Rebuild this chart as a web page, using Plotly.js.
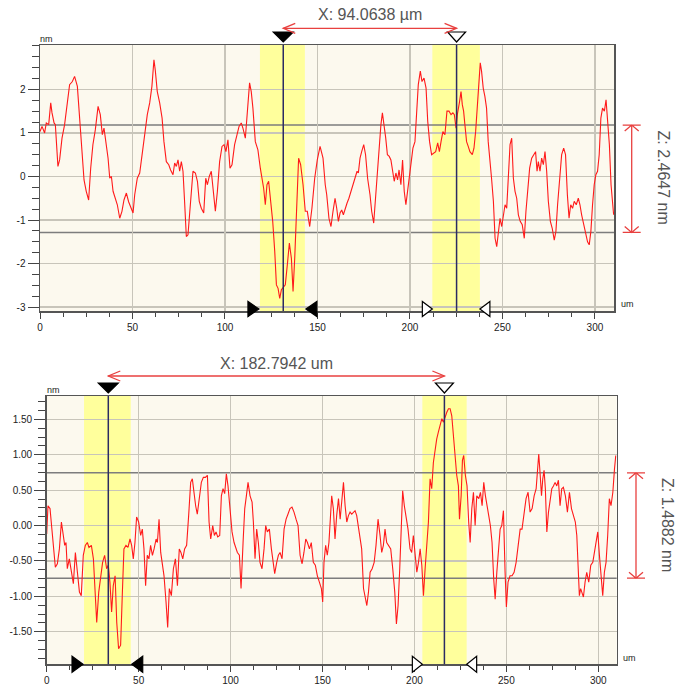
<!DOCTYPE html>
<html>
<head>
<meta charset="utf-8">
<script src="https://cdn.plot.ly/plotly-3.0.1.min.js"></script>
<style>html,body{margin:0;padding:0;background:#fff;}#chart{width:675px;height:685px;}</style>
</head>
<body>
<div id="chart"></div>
<script>
// ---------- DATA ----------
// Top profile: x in um, height in nm
const topX = [0.0,1.1,2.5,3.4,4.7,5.8,6.5,7.6,8.3,9.2,9.7,10.6,11.9,13.3,14.8,16.0,17.5,18.7,20.2,21.4,22.7,23.8,25.0,26.3,27.4,28.6,29.9,31.4,32.6,33.7,34.6,35.9,36.8,37.7,38.6,39.5,40.7,41.8,43.1,44.3,45.4,46.7,47.9,49.4,50.3,51.2,52.6,53.9,55.1,56.6,58.0,59.3,60.5,61.6,62.3,63.4,64.7,66.0,67.0,68.3,69.6,70.6,71.9,72.8,73.7,74.6,75.5,76.4,77.3,78.2,79.1,80.0,80.9,81.8,82.7,84.0,85.1,86.1,87.2,88.5,89.6,90.5,91.5,92.6,93.5,94.8,95.9,97.1,98.4,99.5,100.5,101.6,102.7,103.8,105.2,106.5,107.6,108.8,109.7,111.0,112.1,113.3,114.2,115.1,116.4,117.8,119.1,120.0,120.9,121.8,122.7,123.6,124.7,125.8,126.9,127.8,128.7,129.6,130.5,131.7,132.6,133.7,134.8,135.9,136.8,137.7,138.6,139.8,140.9,142.2,143.4,144.5,145.8,147.0,148.5,149.9,151.4,153.0,154.2,155.0,156.2,157.3,158.4,159.5,160.4,161.3,162.2,163.1,164.0,164.9,166.0,167.0,168.1,169.2,170.3,171.4,172.1,173.0,173.9,175.0,176.0,177.1,178.4,179.3,180.4,181.4,182.5,183.4,184.3,185.1,186.0,186.9,187.8,188.8,189.7,190.6,191.5,192.4,193.3,194.1,195.1,196.0,196.9,197.8,198.7,199.6,200.5,201.6,202.7,203.6,204.5,205.6,206.5,207.6,208.7,209.6,210.6,211.7,212.8,213.9,215.0,215.9,216.8,217.8,218.9,220.0,221.1,222.2,223.2,224.0,224.9,225.6,226.7,227.6,228.3,229.0,229.7,230.6,231.5,232.4,233.7,234.6,235.5,236.4,237.3,238.0,238.7,239.6,240.5,241.4,242.3,243.2,244.1,245.1,246.0,246.9,247.8,248.7,249.6,250.5,251.4,252.3,253.2,254.1,255.0,255.9,256.8,257.7,258.6,259.6,260.7,261.8,262.7,263.6,264.7,265.8,266.9,267.9,268.7,269.4,270.3,271.2,272.1,273.0,273.9,274.8,275.9,276.9,278.0,278.9,279.8,280.9,282.0,283.1,284.1,285.1,286.0,286.9,287.9,288.8,289.9,291.0,291.9,292.8,293.9,295.0,296.0,296.9,297.8,298.7,299.6,300.5,301.4,302.3,303.2,304.1,305.1,306.0,306.9,307.8,308.7,309.6,310.1];
const topZ = [1.03,1.15,1.00,1.23,1.19,1.69,1.46,1.23,1.19,0.38,0.23,0.38,0.88,1.19,1.65,2.11,2.18,2.30,2.07,1.42,0.65,-0.08,-0.34,-0.54,0.19,0.73,1.07,1.61,1.42,0.96,1.11,0.73,0.42,-0.04,0.00,-0.34,-0.50,-0.65,-0.96,-0.80,-0.54,-0.38,-0.58,-0.77,-0.84,-0.42,-0.04,0.08,0.50,0.92,1.42,1.69,2.07,2.68,2.45,1.95,1.69,1.34,0.80,0.34,0.27,0.15,0.04,0.31,0.23,0.38,0.12,0.34,0.12,-0.61,-1.38,-1.34,-0.88,-0.34,0.12,0.08,-0.11,-0.57,-0.73,-0.84,-0.04,-0.19,0.00,0.12,-0.27,-0.80,-0.34,0.34,0.69,0.73,0.57,0.84,0.19,0.27,0.73,1.00,1.15,1.23,1.11,0.88,1.46,2.15,1.95,1.57,0.80,0.61,0.19,-0.04,-0.27,-0.65,-0.19,-0.11,-0.57,-1.03,-1.72,-2.49,-2.57,-2.80,-2.60,-2.53,-2.49,-2.03,-1.53,-1.88,-2.64,-1.88,-0.73,0.42,0.27,-0.19,-0.80,-0.80,-1.15,-0.73,-0.04,0.38,0.69,0.42,-0.19,-0.42,-0.96,-1.15,-0.80,-0.50,-0.73,-1.03,-0.84,-0.77,-0.88,-0.73,-0.61,-0.50,-0.34,-0.19,-0.04,0.12,0.08,0.42,0.57,0.73,0.50,-0.04,-0.42,-0.80,-1.07,-0.50,0.12,0.73,1.19,1.46,1.19,0.88,0.50,0.46,0.38,0.15,-0.11,0.08,-0.08,0.15,-0.19,0.38,-0.34,-0.65,-0.34,-0.04,0.27,0.65,0.80,1.34,2.11,2.42,2.18,2.26,2.03,1.27,0.80,0.50,0.54,0.57,0.77,0.57,0.80,1.03,0.96,1.50,1.50,1.42,1.46,1.42,1.11,1.42,1.69,1.95,1.65,1.50,1.19,0.80,0.69,0.57,0.50,0.65,1.03,1.69,2.34,2.61,2.42,2.03,1.84,1.57,0.80,0.42,-0.04,-0.57,-1.42,-1.61,-1.34,-0.96,-1.15,-0.88,-0.65,-0.73,-0.04,0.73,0.88,-0.04,-0.34,-0.50,-0.88,-1.03,-1.11,-1.42,-0.80,-0.27,0.19,0.42,0.50,0.57,0.12,0.34,0.12,0.42,0.27,0.57,0.12,-0.57,-1.03,-1.19,-1.46,-1.26,-0.65,-0.04,0.50,0.65,0.50,-0.42,-0.96,-0.65,-0.73,-0.57,-0.65,-0.50,-0.65,-0.88,-1.11,-1.34,-1.50,-1.57,-1.26,-0.65,-0.19,0.04,0.12,0.50,1.34,1.57,1.50,1.76,1.27,0.73,-0.19,-0.73,-0.88];

// Bottom profile
const botX = [0.0,0.7,1.8,2.5,3.6,4.7,5.8,6.9,8.0,8.9,9.8,10.5,11.2,12.3,13.4,14.5,15.6,16.7,17.8,18.8,19.9,21.0,22.1,23.0,24.3,25.4,26.3,27.2,28.3,29.4,30.4,31.5,32.6,33.5,34.4,35.3,36.2,37.2,38.1,39.1,40.2,41.1,42.0,43.1,44.2,45.3,46.2,47.1,48.0,48.9,50.0,51.1,52.0,52.9,53.8,54.7,55.6,56.5,57.5,58.4,59.5,60.2,61.1,62.0,62.9,63.8,64.9,65.8,66.7,67.8,68.9,70.0,71.1,72.1,73.0,74.0,75.0,76.1,77.2,78.3,79.2,80.1,81.0,81.9,83.0,84.1,85.2,86.3,87.4,88.3,89.2,90.3,91.2,92.1,93.0,94.1,95.0,95.9,96.8,97.7,98.6,99.7,100.8,101.9,102.8,103.7,104.8,105.7,106.8,107.7,108.6,109.5,110.6,111.7,112.4,113.3,114.2,115.1,116.0,117.1,118.2,119.1,120.0,121.1,122.2,123.3,124.0,125.1,126.0,126.9,128.0,129.1,130.2,131.2,132.3,133.4,134.5,135.6,136.7,137.8,138.9,139.9,140.9,141.8,142.9,143.9,145.0,146.1,147.2,148.3,149.4,150.1,150.8,151.7,152.6,153.5,154.5,155.0,155.9,156.8,157.7,158.7,159.6,160.5,161.4,162.3,163.2,164.1,165.0,165.9,166.8,167.7,168.6,169.5,170.4,171.3,172.3,173.2,174.1,175.0,175.9,177.0,178.1,179.1,180.2,181.3,182.2,183.1,184.0,184.9,186.0,187.1,188.2,189.3,190.2,191.1,192.0,192.9,193.6,194.5,195.5,196.5,197.6,198.5,199.4,200.4,201.3,202.2,203.1,204.0,204.9,205.8,206.7,207.6,208.5,209.4,210.3,211.2,212.1,213.0,213.9,214.9,215.8,216.7,217.6,218.5,219.4,220.3,221.2,222.1,223.0,223.9,224.5,225.4,226.1,226.8,227.7,228.6,229.5,230.3,231.2,232.1,233.0,233.9,235.0,235.9,236.8,237.7,238.6,239.5,240.4,241.3,242.2,243.1,243.9,244.8,245.7,246.6,247.5,248.4,249.3,250.0,250.9,252.0,253.1,254.2,255.3,256.4,257.5,258.5,259.6,260.7,261.8,262.9,264.0,265.1,266.2,266.9,267.6,268.3,269.1,269.8,270.5,271.2,272.0,272.9,273.8,274.7,275.6,276.5,277.4,278.3,279.2,280.1,281.0,282.1,283.2,284.3,285.4,286.5,287.5,288.3,289.0,289.7,290.4,291.2,291.9,292.8,293.7,294.8,295.9,297.0,297.9,298.8,299.7,300.6,301.5,302.4,303.3,304.2,305.1,306.0,306.9,307.9,308.8,309.5];
const botZ = [-0.12,0.28,0.24,0.05,-0.28,-0.59,-0.54,-0.33,0.05,-0.14,-0.28,-0.24,-0.61,-0.47,-0.66,-0.82,-0.38,-0.71,-0.94,-0.99,-0.42,-0.28,-0.24,-0.31,-0.28,-0.47,-0.89,-1.37,-0.94,-0.75,-0.52,-0.42,-0.61,-0.56,-0.80,-1.22,-0.85,-0.71,-1.37,-1.74,-1.69,-0.99,-0.33,-0.28,-0.31,-0.19,-0.28,-0.47,-0.24,0.12,0.05,-0.14,-0.05,-0.33,-0.85,-0.42,-0.47,-0.28,-0.42,-0.33,-0.19,-0.24,0.09,-0.38,-0.56,-0.71,-1.08,-1.44,-0.89,-0.99,-0.61,-0.47,-0.85,-0.33,-0.38,-0.47,-0.33,-0.28,0.14,0.61,0.66,0.42,0.28,0.16,0.38,0.61,0.68,0.68,0.71,0.05,-0.19,0.00,-0.14,-0.09,-0.16,-0.14,0.42,0.52,0.45,0.73,0.56,0.19,-0.09,-0.24,-0.33,-0.38,-0.42,-0.89,-0.24,0.24,0.42,0.61,0.42,0.33,0.05,-0.47,-0.05,-0.24,-0.52,-0.61,-0.33,0.00,-0.09,-0.05,-0.33,-0.56,-0.68,-0.52,-0.42,-0.38,-0.47,-0.05,0.09,0.16,0.24,0.26,0.19,0.09,0.00,-0.42,-0.54,-0.38,-0.19,-0.24,-0.33,-0.24,-0.52,-0.56,-0.71,-0.80,-0.89,-1.08,-0.52,-0.28,-0.42,-0.24,0.19,0.42,0.24,-0.19,0.14,0.38,0.09,0.42,0.61,0.28,0.05,0.14,0.19,0.16,0.19,0.21,0.14,0.00,-0.14,-0.33,-0.89,-1.04,-1.13,-0.94,-0.66,-0.61,-0.52,-0.28,0.09,-0.14,-0.38,-0.28,-0.05,-0.24,-0.28,-0.33,-0.61,-0.94,-1.39,-1.13,-0.61,0.19,0.49,0.28,0.14,-0.05,-0.33,-0.38,-0.14,-0.42,-0.66,-0.52,-0.33,-0.56,-0.99,-0.61,-0.28,0.05,0.66,0.52,0.89,1.08,1.22,1.32,1.41,1.51,1.46,1.55,1.60,1.65,1.65,1.55,1.32,0.99,0.71,0.56,0.09,0.42,0.92,0.99,0.71,0.56,0.05,-0.24,0.24,0.47,0.00,0.42,0.38,0.47,0.28,0.61,0.42,0.24,0.14,0.00,-0.24,-0.75,-1.04,-0.66,-0.38,-0.05,0.00,0.21,-0.66,-1.15,-0.80,-0.71,-0.71,-0.66,-0.52,-0.28,-0.05,-0.05,0.19,0.38,0.47,0.19,0.24,0.42,0.52,0.75,1.01,0.75,0.42,0.66,0.78,0.52,-0.09,0.19,0.38,0.52,0.56,0.61,0.56,0.64,0.28,0.52,0.54,0.42,0.19,0.47,0.24,0.14,0.05,-0.14,-0.52,-0.99,-0.89,-0.94,-1.01,-0.80,-0.66,-0.80,-0.56,-0.52,-0.38,-0.28,-0.09,-0.42,-0.71,-0.99,-0.66,-0.52,-0.14,0.38,0.28,0.47,0.80,0.99];

// Tick labels
const topYTicks = [2, 1, 0, -1, -2, -3];
const topYLabels = ['2', '1', '0', '-1', '-2', '-3'];
const botYTicks = [1.5, 1.0, 0.5, 0.0, -0.5, -1.0, -1.5];
const botYLabels = ['1.50', '1.00', '0.50', '0.00', '-0.50', '-1.00', '-1.50'];

// Cursor / measurement values
const topBands = [[118.9, 143.2], [212.1, 237.8]];
const topCursors = [131.5, 225.2];
const topZLines = [1.18, -1.2847];
const topXLabel = 'X: 94.0638 \u00b5m';
const topZLabel = 'Z: 2.4647 nm';

const botBands = [[20.3, 45.7], [204.3, 228.4]];
const botCursors = [33.5, 216.3];
const botZLines = [0.745, -0.7432];
const botXLabel = 'X: 182.7942 um';
const botZLabel = 'Z: 1.4882 nm';

// ---------- STYLE ----------
const W = 675, H = 685;
const FONT = 'Liberation Sans, Arial, sans-serif';
const RED = '#e8403f';
const CURSOR = '#2b2b62';
const px = v => v / W;          // horizontal pixel -> paper
const py = v => 1 - v / H;      // vertical pixel -> paper

function axisX(domain, range, anchor) {
  return {
    domain: domain, range: range, anchor: anchor, fixedrange: true,
    tickmode: 'linear', tick0: 0, dtick: 50,
    ticks: 'outside', ticklen: 6, tickwidth: 1, tickcolor: '#444',
    minor: {ticks: 'outside', tick0: 0, dtick: 12.5, ticklen: 4, tickwidth: 1, tickcolor: '#444', showgrid: false},
    showgrid: true, gridcolor: '#c8c5ba', gridwidth: 1.2,
    showline: true, mirror: true, linecolor: '#555', linewidth: 1.5,
    zeroline: false,
    tickfont: {family: FONT, size: 10, color: '#222'}
  };
}
function axisY(domain, range, anchor, vals, labels, minorD) {
  return {
    domain: domain, range: range, anchor: anchor, fixedrange: true,
    tickmode: 'array', tickvals: vals, ticktext: labels,
    ticks: 'outside', ticklen: 11, tickwidth: 1, tickcolor: '#444',
    minor: {ticks: 'outside', tickmode: 'linear', tick0: 0, dtick: minorD, ticklen: 7, tickwidth: 1, tickcolor: '#444', showgrid: false},
    showgrid: true, gridcolor: '#c8c5ba', gridwidth: 1.2,
    showline: true, mirror: true, linecolor: '#555', linewidth: 1.5,
    zeroline: false,
    tickfont: {family: FONT, size: 10, color: '#222'}
  };
}

function tri(xr, yr, xa, ya, path, filled) {
  return {type: 'path', xref: xr, yref: yr, xsizemode: 'pixel', ysizemode: 'pixel',
    xanchor: xa, yanchor: ya, path: path, layer: 'above',
    fillcolor: filled ? '#000' : '#fff', line: {color: '#000', width: 1.2}};
}
function pixPath(xr, yr, xa, ya, path, color, w) {
  return {type: 'path', xref: xr, yref: yr, xsizemode: 'pixel', ysizemode: 'pixel',
    xanchor: xa, yanchor: ya, path: path, layer: 'above',
    line: {color: color, width: w}};
}

function chartShapes(xr, yr, bands, cursors, zlines, arrowYpx, zArrowXpx, triH) {
  const yd = yr + ' domain', xd = xr + ' domain';
  const s = [];
  bands.forEach(b => s.push({type: 'rect', xref: xr, yref: yd, x0: b[0], x1: b[1], y0: 0, y1: 1,
    fillcolor: '#ffff9c', line: {width: 0}, layer: 'below'}));
  zlines.forEach(z => s.push({type: 'line', xref: xd, yref: yr, x0: 0, x1: 1, y0: z, y1: z,
    line: {color: '#7d7d7d', width: 1.5}, layer: 'below'}));
  cursors.forEach(c => s.push({type: 'line', xref: xr, yref: yd, x0: c, x1: c, y0: 0, y1: 1,
    line: {color: CURSOR, width: 1.5}, layer: 'above'}));
  // top cursor markers
  s.push(tri(xr, yd, cursors[0], 1, 'M -10,13 L 10,13 L 0,3 Z', true));
  s.push(tri(xr, yd, cursors[1], 1, 'M -9,13 L 9,13 L 0,3 Z', false));
  // band edge markers on the x axis
  const h1 = triH[0], h2 = triH[1], hm = (triH[0] + triH[1]) / 2;
  s.push(tri(xr, yd, bands[0][0], 0, 'M -12,' + h1 + ' L -12,' + h2 + ' L -1,' + hm + ' Z', true));
  s.push(tri(xr, yd, bands[0][1], 0, 'M 12,' + h1 + ' L 12,' + h2 + ' L 1,' + hm + ' Z', true));
  s.push(tri(xr, yd, bands[1][0], 0, 'M -10,' + h1 + ' L -10,' + h2 + ' L 0,' + hm + ' Z', false));
  s.push(tri(xr, yd, bands[1][1], 0, 'M 10,' + h1 + ' L 10,' + h2 + ' L 0,' + hm + ' Z', false));
  // X measurement arrow
  s.push({type: 'line', xref: xr, yref: 'paper', x0: cursors[0], x1: cursors[1], y0: py(arrowYpx), y1: py(arrowYpx),
    line: {color: RED, width: 1.3}, layer: 'above'});
  s.push(pixPath(xr, 'paper', cursors[0], py(arrowYpx), 'M 12,5 L 0,0 L 12,-5', RED, 1.3));
  s.push(pixPath(xr, 'paper', cursors[1], py(arrowYpx), 'M -12,5 L 0,0 L -12,-5', RED, 1.3));
  // Z measurement arrow
  s.push({type: 'line', xref: 'paper', yref: yr, x0: px(zArrowXpx), x1: px(zArrowXpx), y0: zlines[1], y1: zlines[0],
    line: {color: RED, width: 1.3}, layer: 'above'});
  s.push(pixPath('paper', yr, px(zArrowXpx), zlines[0], 'M -9,0 L 9,0 M -7,-6 L 0,0 L 7,-6', RED, 1.3));
  s.push(pixPath('paper', yr, px(zArrowXpx), zlines[1], 'M -9,0 L 9,0 M -7,6 L 0,0 L 7,6', RED, 1.3));
  return s;
}

const shapes = [].concat(
  chartShapes('x', 'y', topBands, topCursors, topZLines, 28.3, 631.7, [9.5, -5.5]),
  chartShapes('x2', 'y2', botBands, botCursors, botZLines, 376, 636, [8, -8])
);

function txt(text, xr, x, yr, y, size, angle, color) {
  return {text: text, xref: xr, x: x, yref: yr, y: y, showarrow: false, textangle: angle || 0,
    xanchor: 'center', yanchor: 'middle', font: {family: FONT, size: size, color: color || '#555'}};
}
const annotations = [
  txt(topXLabel, 'x', (topCursors[0] + topCursors[1]) / 2, 'paper', py(15), 16),
  txt(topZLabel, 'paper', px(663), 'paper', py(177.5), 16, 90),
  txt('nm', 'paper', px(46), 'paper', py(39), 9, 0, '#222'),
  txt('um', 'paper', px(627), 'paper', py(304), 9, 0, '#222'),
  txt(botXLabel, 'x2', (botCursors[0] + botCursors[1]) / 2, 'paper', py(363), 16),
  txt(botZLabel, 'paper', px(668), 'paper', py(525), 16, 90),
  txt('nm', 'paper', px(53.5), 'paper', py(390), 9, 0, '#222'),
  txt('um', 'paper', px(629), 'paper', py(657.7), 9, 0, '#222')
];

const traces = [
  {x: topX, y: topZ, xaxis: 'x', yaxis: 'y', type: 'scatter', mode: 'lines',
   line: {color: '#ff1a1a', width: 1.1}, hoverinfo: 'skip'},
  {x: botX, y: botZ, xaxis: 'x2', yaxis: 'y2', type: 'scatter', mode: 'lines',
   line: {color: '#ff1a1a', width: 1.1}, hoverinfo: 'skip'}
];

const layout = {
  width: W, height: H, margin: {l: 0, r: 0, t: 0, b: 0, pad: 0},
  paper_bgcolor: '#ffffff', plot_bgcolor: '#fcf9ee', showlegend: false,
  font: {family: FONT},
  xaxis: axisX([px(40), px(614)], [0, 310.3], 'y'),
  yaxis: axisY([py(311), py(45)], [-3.09, 3.02], 'x', topYTicks, topYLabels, 0.25),
  xaxis2: axisX([px(46.7), px(616.7)], [0, 310], 'y2'),
  yaxis2: axisY([py(664.3), py(396)], [-1.96, 1.83], 'x2', botYTicks, botYLabels, 0.125),
  shapes: shapes,
  annotations: annotations
};

Plotly.newPlot('chart', traces, layout, {displayModeBar: false, staticPlot: true});
</script>
</body>
</html>
